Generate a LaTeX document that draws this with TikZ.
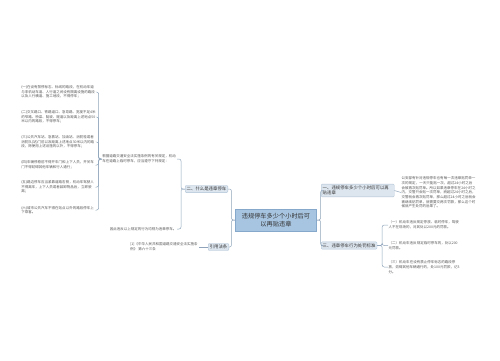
\documentclass[tikz,border=0pt]{standalone}
\usepackage{fontspec}
\setmainfont{Noto Sans CJK SC}
\XeTeXlinebreaklocale "zh"
\XeTeXlinebreakskip=0pt plus 0.02pt
\definecolor{lineC}{HTML}{8FA4BA}
\definecolor{subF}{HTML}{DDE6EF}
\definecolor{subB}{HTML}{AFC2D5}
\definecolor{rootF}{HTML}{A7C4E0}
\definecolor{rootB}{HTML}{86A8CA}
\definecolor{leafC}{HTML}{555555}
\definecolor{darkC}{HTML}{333333}
\tikzset{
  conn/.style={draw=lineC, line width=0.5pt, rounded corners=2pt},
  leaf/.style={font=\fontsize{3.5}{4.7}\selectfont, text=leafC, text width=75pt, align=left, inner sep=0.5pt},
  sub/.style={draw=subB, fill=subF, font=\fontsize{4.4}{5.6}\selectfont, text=darkC, inner sep=1.5pt, rounded corners=1pt},
  root/.style={draw=rootB, fill=rootF, font=\fontsize{6.2}{8}\selectfont, text=darkC, align=center, text width=74pt, minimum height=22pt},
}
\begin{document}
\begin{tikzpicture}[x=1pt,y=-1pt]
\useasboundingbox (0,0) rectangle (500,360);
% root
\node[root] (c) at (276,220) {违规停车多少个小时后可\\以再贴违章};
% main branches
\node[sub] (two) at (206.5,189) {二、什么是违章停车};
\node[sub] (ref) at (218.5,247) {引用法条};
\node[sub, anchor=west, text width=70pt, align=left] (one) at (321,190.5) {一、违规停车多少个小时后可以再贴违章};
\node[sub, anchor=west] (three) at (321,245.5) {三、违章停车行为处罚标准};
% left texts
\node[leaf, anchor=east, text width=74pt] (A) at (177,159) {根据道路交通安全法实施条例的有关规定，机动车在道路上临时停车，应当遵守下列规定：};
\node[leaf, anchor=east, text width=] (B) at (177,229) {因此违反以上规定的行为均视为违章停车。};
\node[leaf, anchor=east] (L1) at (97,92) {(一)在设有禁停标志、标线的路段，在机动车道与非机动车道、人行道之间设有隔离设施的路段以及人行横道、施工地段，不得停车；};
\node[leaf, anchor=east] (L2) at (97,117) {(二)交叉路口、铁路道口、急弯路、宽度不足4米的窄路、桥梁、陡坡、隧道以及距离上述地点50米以内的路段，不得停车；};
\node[leaf, anchor=east] (L3) at (97,142) {(三)公共汽车站、急救站、加油站、消防栓或者消防队(站)门前以及距离上述地点30米以内的路段，除使用上述设施的以外，不得停车；};
\node[leaf, anchor=east] (L4) at (97,165) {(四)车辆停稳前不得开车门和上下人员，开关车门不得妨碍其他车辆和行人通行；};
\node[leaf, anchor=east] (L5) at (97,187) {(五)路边停车应当紧靠道路右侧，机动车驾驶人不得离车，上下人员或者装卸物品后，立即驶离；};
\node[leaf, anchor=east] (L6) at (97,210) {(六)城市公共汽车不得在站点以外的路段停车上下乘客。};
\node[leaf, anchor=east, text width=68pt] (R1) at (199,247) {[1]《中华人民共和国道路交通安全法实施条例》 第六十三条};
% right texts
\node[leaf, anchor=west] (O1) at (401,192.5) {公安部有针对违规停车也有每一次违章贴罚单一次的规定，一天只能贴一次，超过24小时之后会被再次贴罚单。所以如果违章停车在24小时之内，交警只会贴一次罚单，而超过24小时之后，交警就会再次贴罚单，那么超过24小时之后就会被继续贴罚单，就需要交两次罚款，那么这个时候就产生处罚的后果了。};
\node[leaf, anchor=west, text width=72pt] (T1) at (388,225) {（一）机动车违反规定停放、临时停车，驾驶人不在现场的，对其处以200元的罚款。};
\node[leaf, anchor=west, text width=72pt] (T2) at (388,245.5) {（二）机动车违反规定临时停车的，处以200元罚款。};
\node[leaf, anchor=west, text width=72pt] (T3) at (388,267) {（三）机动车在设有禁止停车标志的路段停放，妨碍其他车辆通行的，处100元罚款，记3分。};
% connectors
\draw[conn] (c.west) -- ++(-4,0) |- (two.east);
\draw[conn] (c.west) -- ++(-4,0) |- (ref.east);
\draw[conn] (c.east) -- ++(4,0) |- (one.west);
\draw[conn] (c.east) -- ++(4,0) |- (three.west);
\draw[conn] (two.west) -- ++(-4,0) |- (A.east);
\draw[conn] (two.west) -- ++(-4,0) |- (B.east);
\foreach \n in {L1,L2,L3,L4,L5,L6}{
  \draw[conn] (A.west) -- ++(-3,0) |- (\n.east);
}
\draw[conn] (ref.west) -- (R1.east);
\draw[conn] (one.east) -- (O1.west);
\foreach \n in {T1,T2,T3}{
  \draw[conn] (three.east) -- ++(5,0) |- (\n.west);
}
\end{tikzpicture}
\end{document}
